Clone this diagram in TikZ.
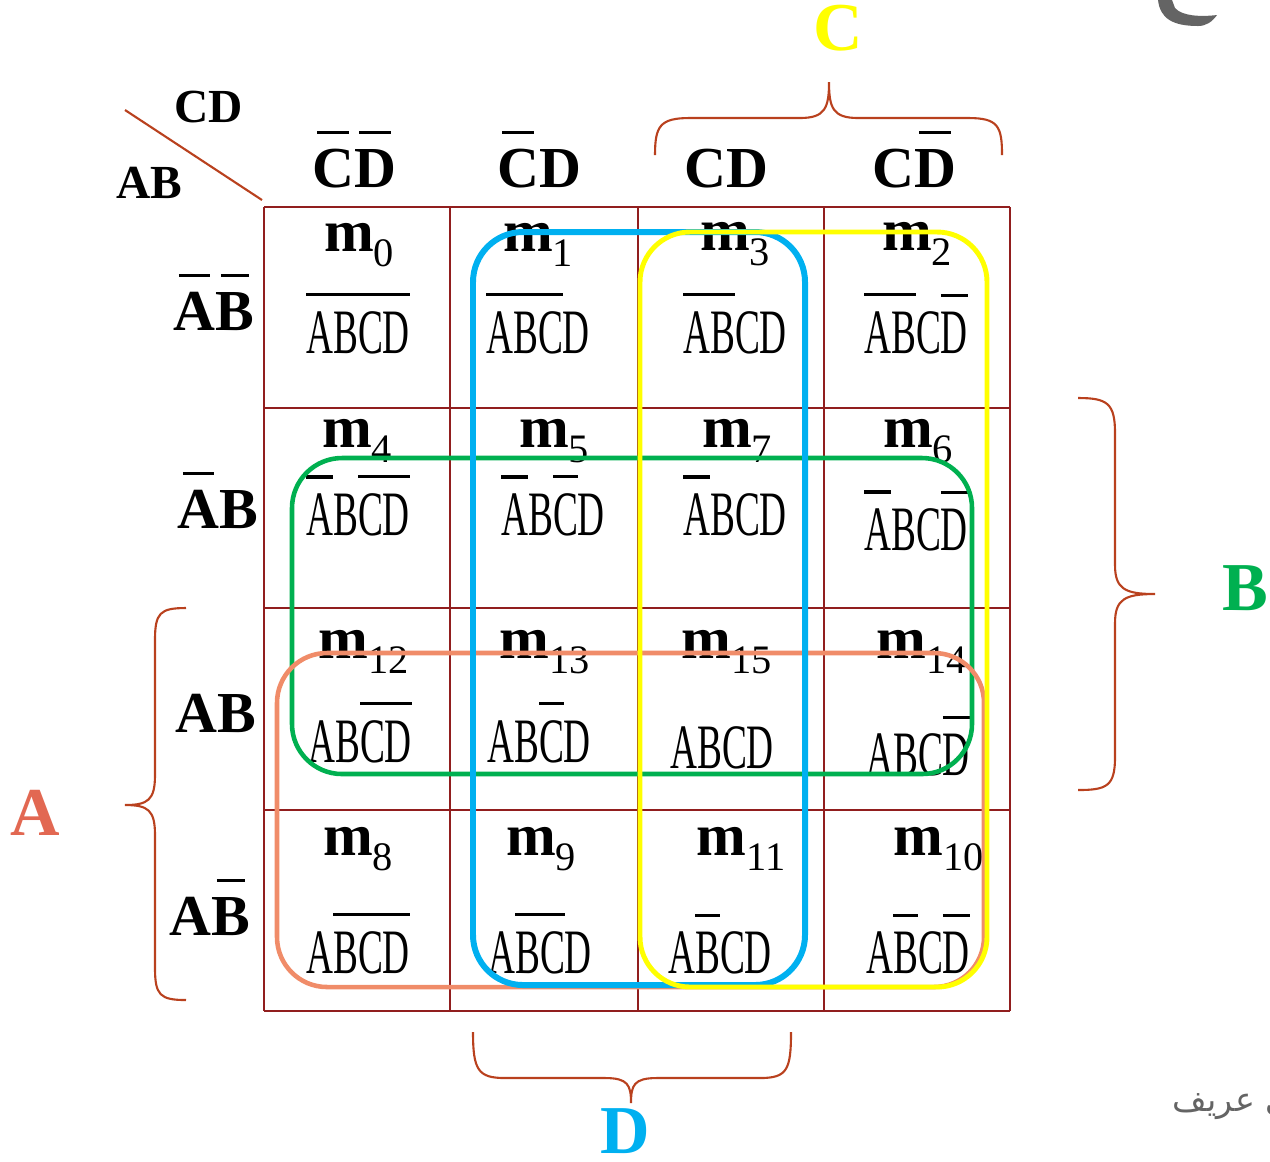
\documentclass[tikz,border=0pt]{standalone}
\usepackage{fontspec}
\setmainfont{Liberation Serif}
\newfontfamily\cellfont[FakeStretch=0.59]{Liberation Serif}
\newfontfamily\arabicfont[Script=Arabic]{DejaVu Sans}
\TeXXeTstate=1

\definecolor{gridred}{RGB}{145,30,30}
\definecolor{bracered}{RGB}{185,65,30}
\definecolor{loopblue}{RGB}{0,176,240}
\definecolor{loopyellow}{RGB}{255,255,0}
\definecolor{loopgreen}{RGB}{0,176,80}
\definecolor{loopsalmon}{RGB}{240,140,105}
\definecolor{letterA}{RGB}{226,104,82}
\definecolor{inkgrey}{RGB}{100,100,100}

% barred letters: rule over the box
\newcommand\nb[1]{\vbox{\hrule height 0.9pt\kern 4.2pt\hbox{#1}}}
% same, with the rule a little shorter so that neighbours stay apart
\newcommand\nbs[1]{\setbox0\hbox{#1}\vbox{\moveright1.5pt\vbox{\hrule width\dimexpr\wd0-3pt\relax height 0.9pt}\nointerlineskip\kern 4.2pt\box0}}
% minterm name with lowered index
\newcommand\mterm[1]{m\raisebox{-4.3pt}{\normalfont\fontsize{11.5}{12}\selectfont #1}}

\tikzset{
	gridline/.style={draw=gridred, line width=0.7pt},
	brace/.style={draw=bracered, line width=0.6pt},
	loop/.style={rounded corners=5mm},
	term/.style={anchor=base, inner sep=0pt, font=\cellfont\fontsize{18}{18}\selectfont},
	mname/.style={anchor=base, inner sep=0pt, font=\bfseries\fontsize{17}{17}\selectfont},
	head/.style={anchor=base, inner sep=0pt, font=\bfseries\fontsize{16.5}{17}\selectfont},
	corner/.style={anchor=base, inner sep=0pt, font=\bfseries\fontsize{13.5}{14}\selectfont},
	big/.style={anchor=base, inner sep=0pt, font=\bfseries\fontsize{19.5}{20}\selectfont}
}

\begin{document}
\begin{tikzpicture}[x=0.1mm, y=-0.1mm]
	\useasboundingbox (0,0) rectangle (1270,1161);

	%grid
	\foreach \x in {264, 450, 638, 824, 1010}{
		\draw[gridline] (\x, 207) -- (\x, 1011);
	}
	\foreach \y in {207, 408, 608, 810, 1011}{
		\draw[gridline] (264, \y) -- (1010, \y);
	}

	%corner labels and slash
	\node (cdlab) [corner] at (209, 122){CD};
	\node (ablab) [corner] at (149, 198){AB};
	\coordinate (slash) at (125, 110);
	\coordinate (gridcorner) at (262, 200);
	\draw[brace] (slash) -- (gridcorner);

	%column and row heads
	\node (col0) [head] at (354, 187){\nbs{C}\nbs{D}};
	\node (col1) [head] at (539, 187){\nbs{C}D};
	\node (col2) [head] at (726, 187){CD};
	\node (col3) [head] at (914, 187){C\nbs{D}};
	\node (row0) [head] at (214, 330){\nbs{A}\nbs{B}};
	\node (row1) [head] at (218, 528){\nbs{A}B};
	\node (row2) [head] at (216, 732){AB};
	\node (row3) [head] at (210, 935){A\nbs{B}};

	%cells: index / name x / name y / term x / term y / term
	\foreach \i/\mx/\my/\tx/\ty/\t in {
		0/359/251/358/353/{\nb{ABCD}},
		1/538/251/538/353/{\nb{ABC}D},
		3/735/250/735/353/{\nb{AB}CD},
		2/917/250/916/353/{\nb{AB}C\nb{D}},
		4/357/447/358/535/{\nb{A}B\nb{CD}},
		5/554/447/553/535/{\nb{A}B\nb{C}D},
		7/737/447/735/535/{\nb{A}BCD},
		6/918/447/916/550/{\nb{A}BC\nb{D}},
		12/364/658/360/762/{AB\nb{CD}},
		13/545/658/539/762/{AB\nb{C}D},
		15/727/658/722/768/{ABCD},
		14/922/658/918/775/{ABC\nb{D}},
		8/358/855/358/973/{A\nb{BCD}},
		9/541/855/540/973/{A\nb{BC}D},
		11/741/855/720/973/{A\nb{B}CD},
		10/939/855/918/973/{A\nb{B}C\nb{D}}}{
		\node (m\i) [mname] at (\mx, \my){\mterm{\i}};
		\node (t\i) [term] at (\tx, \ty){\t};
	}

	%groups
	\draw[loop, draw=loopgreen, line width=1.3pt] (292, 458) rectangle (972, 774);
	\draw[loop, draw=loopsalmon, line width=1.3pt] (277, 653) rectangle (984, 987);
	\draw[loop, draw=loopblue, line width=1.7pt] (473, 232) rectangle (805, 985);
	\draw[loop, draw=loopyellow, line width=1.4pt] (640, 232) rectangle (987, 987);

	%braces
	\draw[brace] (655,155) .. controls (655,126) and (660,118) .. (690,118) -- (800,118)
		.. controls (825,118) and (829,108) .. (829,82)
		.. controls (829,108) and (833,118) .. (858,118) -- (968,118)
		.. controls (998,118) and (1002,126) .. (1002,155);
	\draw[brace] (1078,398) .. controls (1107,398) and (1115,403) .. (1115,433) -- (1115,565)
		.. controls (1115,589) and (1125,594) .. (1155,594)
		.. controls (1125,594) and (1115,599) .. (1115,623) -- (1115,757)
		.. controls (1115,786) and (1107,790) .. (1078,790);
	\draw[brace] (186,608) .. controls (160,608) and (155,613) .. (155,640) -- (155,775)
		.. controls (155,800) and (148,805) .. (125,805)
		.. controls (148,805) and (155,810) .. (155,835) -- (155,968)
		.. controls (155,995) and (160,1000) .. (186,1000);
	\draw[brace] (473,1032) .. controls (473,1070) and (478,1078) .. (505,1078) -- (605,1078)
		.. controls (628,1078) and (631,1085) .. (631,1103)
		.. controls (631,1085) and (634,1078) .. (657,1078) -- (760,1078)
		.. controls (787,1078) and (791,1070) .. (791,1032);

	%group letters
	\node (gC) [big, text=loopyellow] at (838, 50){C};
	\node (gB) [big, text=loopgreen] at (1245, 610){B};
	\node (gA) [big, text=letterA] at (35, 835){A};
	\node (gD) [big, text=loopblue] at (625, 1153){D};

	%edge bits
	\fill[inkgrey] (1158,0) .. controls (1160,18) and (1172,26) .. (1198,26)
		.. controls (1206,26) and (1212,22) .. (1217,15)
		.. controls (1200,17) and (1182,16) .. (1175,8) -- (1172,0) -- cycle;
	\node (sign) [anchor=base west, inner sep=0pt, text=inkgrey, font=\arabicfont\fontsize{9.5}{10}\selectfont]
		at (1172, 1111){\beginR ي عريف\endR};
\end{tikzpicture}
\end{document}
